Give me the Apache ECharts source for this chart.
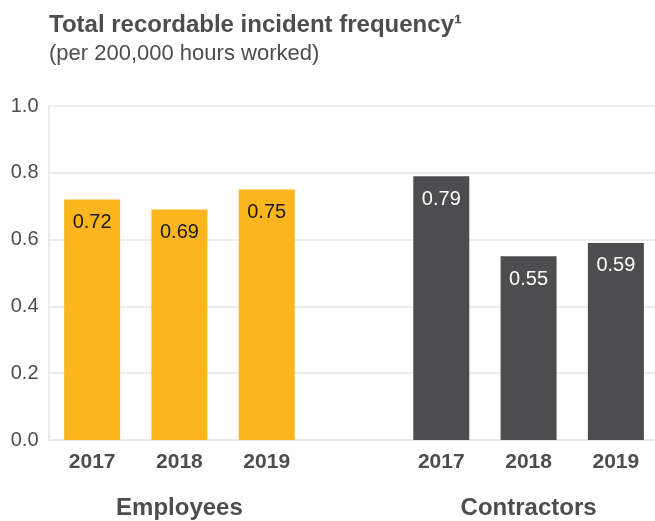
<!DOCTYPE html>
<html><head><meta charset="utf-8">
<script src="https://cdn.jsdelivr.net/npm/echarts@6/dist/echarts.min.js"></script>
<style>html,body{margin:0;padding:0;background:#fff}#c{width:655px;height:521px}</style>
</head><body><div id="c"></div>
<script>
const years = ['2017', '2018', '2019', '', '2017', '2018', '2019'];
const groups = ['', 'Employees', '', '', '', 'Contractors', ''];
const employees = [0.72, 0.69, 0.75];
const contractors = [0.79, 0.55, 0.59];
const yTicks = [0, 0.2, 0.4, 0.6, 0.8, 1.0];

const empData = employees.concat([null, null, null, null]);
const conData = [null, null, null, null].concat(contractors);
const FONT = 'Liberation Sans';
const GRAY = '#4d4d4f';

const chart = echarts.init(document.getElementById('c'), null, {renderer: 'canvas'});
chart.setOption({
  animation: false,
  textStyle: {fontFamily: FONT},
  title: {
    text: 'Total recordable incident frequency\u00b9',
    subtext: '(per 200,000 hours worked)',
    left: 44, top: 8, itemGap: 6,
    textStyle: {fontFamily: FONT, fontSize: 24, fontWeight: 'bold', color: GRAY, letterSpacing: -0.4},
    subtextStyle: {fontFamily: FONT, fontSize: 22, color: GRAY}
  },
  grid: {left: 48.5, top: 106, bottom: 81, width: 611, containLabel: false, outerBoundsMode: 'none'},
  xAxis: [{
    type: 'category', data: years, position: 'bottom',
    axisLine: {lineStyle: {color: '#e6e6e6', width: 1.5}},
    axisTick: {show: false},
    axisLabel: {fontFamily: FONT, fontSize: 21, fontWeight: 'bold', color: GRAY, margin: 12}
  }, {
    type: 'category', data: groups, position: 'bottom', offset: 48,
    axisLine: {show: false}, axisTick: {show: false},
    axisLabel: {fontFamily: FONT, fontSize: 24, fontWeight: 'bold', color: GRAY, interval: 0, letterSpacing: -0.4}
  }],
  yAxis: {
    type: 'value', min: 0, max: 1, interval: 0.2,
    axisLine: {show: true, lineStyle: {color: '#e6e6e6', width: 1.5}},
    axisTick: {show: false},
    splitLine: {lineStyle: {color: '#e6e6e6', width: 1.5}},
    axisLabel: {fontFamily: FONT, fontSize: 20, color: GRAY, margin: 10,
      formatter: v => yTicks.includes(+v.toFixed(1)) ? v.toFixed(1) : ''}
  },
  series: [{
    type: 'bar', stack: 's', data: empData, barWidth: 56, xAxisIndex: 0,
    itemStyle: {color: '#fbb61f'},
    label: {show: true, position: 'insideTop', distance: 13, fontFamily: FONT, fontSize: 20, color: '#1a1a1a',
      formatter: p => p.value == null ? '' : p.value.toFixed(2)}
  }, {
    type: 'bar', stack: 's', data: conData, barWidth: 56, xAxisIndex: 0,
    itemStyle: {color: '#4d4d4f'},
    label: {show: true, position: 'insideTop', distance: 13, fontFamily: FONT, fontSize: 20, color: '#ffffff',
      formatter: p => p.value == null ? '' : p.value.toFixed(2)}
  }]
});
</script></body></html>
